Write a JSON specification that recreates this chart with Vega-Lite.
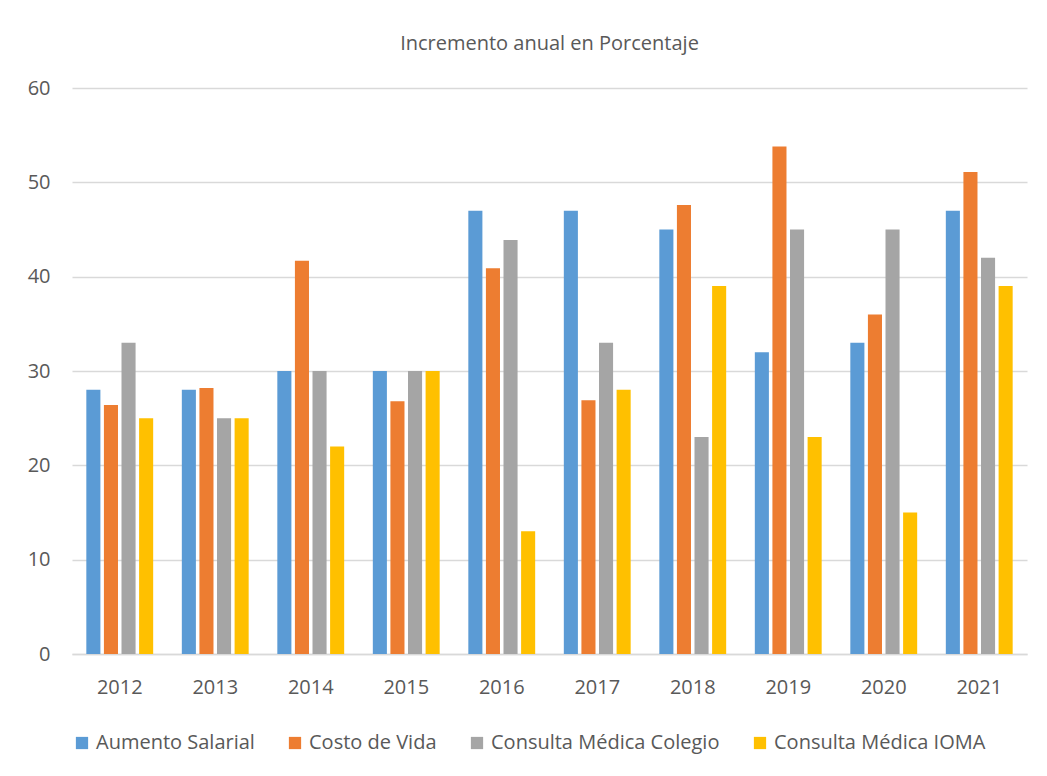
{
  "$schema": "https://vega.github.io/schema/vega-lite/v6.json",
  "width": 955,
  "height": 566,
  "autosize": {"type": "none"},
  "padding": {"left": 72, "top": 88, "right": 20, "bottom": 122},
  "background": "white",
  "title": {
    "text": "Incremento anual en Porcentaje",
    "anchor": "middle",
    "offset": 24,
    "fontSize": 20,
    "fontWeight": "normal",
    "color": "#595959",
    "font": "Open Sans"
  },
  "config": {
    "font": "Open Sans",
    "view": {"stroke": null}
  },
  "data": {
    "values": [
      {"year": "2012", "serie": "Aumento Salarial", "v": 28},
      {"year": "2012", "serie": "Costo de Vida", "v": 26.4},
      {"year": "2012", "serie": "Consulta Médica Colegio", "v": 33},
      {"year": "2012", "serie": "Consulta Médica IOMA", "v": 25},
      {"year": "2013", "serie": "Aumento Salarial", "v": 28},
      {"year": "2013", "serie": "Costo de Vida", "v": 28.2},
      {"year": "2013", "serie": "Consulta Médica Colegio", "v": 25},
      {"year": "2013", "serie": "Consulta Médica IOMA", "v": 25},
      {"year": "2014", "serie": "Aumento Salarial", "v": 30},
      {"year": "2014", "serie": "Costo de Vida", "v": 41.7},
      {"year": "2014", "serie": "Consulta Médica Colegio", "v": 30},
      {"year": "2014", "serie": "Consulta Médica IOMA", "v": 22},
      {"year": "2015", "serie": "Aumento Salarial", "v": 30},
      {"year": "2015", "serie": "Costo de Vida", "v": 26.8},
      {"year": "2015", "serie": "Consulta Médica Colegio", "v": 30},
      {"year": "2015", "serie": "Consulta Médica IOMA", "v": 30},
      {"year": "2016", "serie": "Aumento Salarial", "v": 47},
      {"year": "2016", "serie": "Costo de Vida", "v": 40.9},
      {"year": "2016", "serie": "Consulta Médica Colegio", "v": 43.9},
      {"year": "2016", "serie": "Consulta Médica IOMA", "v": 13},
      {"year": "2017", "serie": "Aumento Salarial", "v": 47},
      {"year": "2017", "serie": "Costo de Vida", "v": 26.9},
      {"year": "2017", "serie": "Consulta Médica Colegio", "v": 33},
      {"year": "2017", "serie": "Consulta Médica IOMA", "v": 28},
      {"year": "2018", "serie": "Aumento Salarial", "v": 45},
      {"year": "2018", "serie": "Costo de Vida", "v": 47.6},
      {"year": "2018", "serie": "Consulta Médica Colegio", "v": 23},
      {"year": "2018", "serie": "Consulta Médica IOMA", "v": 39},
      {"year": "2019", "serie": "Aumento Salarial", "v": 32},
      {"year": "2019", "serie": "Costo de Vida", "v": 53.8},
      {"year": "2019", "serie": "Consulta Médica Colegio", "v": 45},
      {"year": "2019", "serie": "Consulta Médica IOMA", "v": 23},
      {"year": "2020", "serie": "Aumento Salarial", "v": 33},
      {"year": "2020", "serie": "Costo de Vida", "v": 36},
      {"year": "2020", "serie": "Consulta Médica Colegio", "v": 45},
      {"year": "2020", "serie": "Consulta Médica IOMA", "v": 15},
      {"year": "2021", "serie": "Aumento Salarial", "v": 47},
      {"year": "2021", "serie": "Costo de Vida", "v": 51.1},
      {"year": "2021", "serie": "Consulta Médica Colegio", "v": 42},
      {"year": "2021", "serie": "Consulta Médica IOMA", "v": 39}
    ]
  },
  "mark": {"type": "bar"},
  "encoding": {
    "x": {
      "field": "year",
      "type": "nominal",
      "scale": {"paddingInner": 0.3, "paddingOuter": 0.15},
      "axis": {
        "title": null,
        "labelAngle": 0,
        "labelFontSize": 20,
        "labelColor": "#595959",
        "labelPadding": 23,
        "ticks": false,
        "domainColor": "#d9d9d9",
        "domainWidth": 1.5
      }
    },
    "xOffset": {
      "field": "serie",
      "type": "nominal",
      "sort": ["Aumento Salarial", "Costo de Vida", "Consulta Médica Colegio", "Consulta Médica IOMA"],
      "scale": {"paddingInner": 0.2, "paddingOuter": 0}
    },
    "y": {
      "field": "v",
      "type": "quantitative",
      "scale": {"domain": [0, 60]},
      "axis": {
        "title": null,
        "values": [0, 10, 20, 30, 40, 50, 60],
        "labelFontSize": 20,
        "labelColor": "#595959",
        "labelPadding": 22,
        "ticks": false,
        "domain": false,
        "gridColor": "#d9d9d9",
        "gridWidth": 1.5
      }
    },
    "color": {
      "field": "serie",
      "type": "nominal",
      "sort": ["Aumento Salarial", "Costo de Vida", "Consulta Médica Colegio", "Consulta Médica IOMA"],
      "scale": {
        "domain": ["Aumento Salarial", "Costo de Vida", "Consulta Médica Colegio", "Consulta Médica IOMA"],
        "range": ["#5B9BD5", "#ED7D31", "#A5A5A5", "#FFC000"]
      },
      "legend": {
        "title": null,
        "orient": "bottom",
        "direction": "horizontal",
        "offset": 36,
        "symbolType": "square",
        "symbolSize": 150,
        "symbolStrokeWidth": 0,
        "labelFontSize": 20,
        "labelColor": "#595959",
        "labelLimit": 400,
        "labelOffset": 4,
        "columnPadding": 30
      }
    }
  }
}
